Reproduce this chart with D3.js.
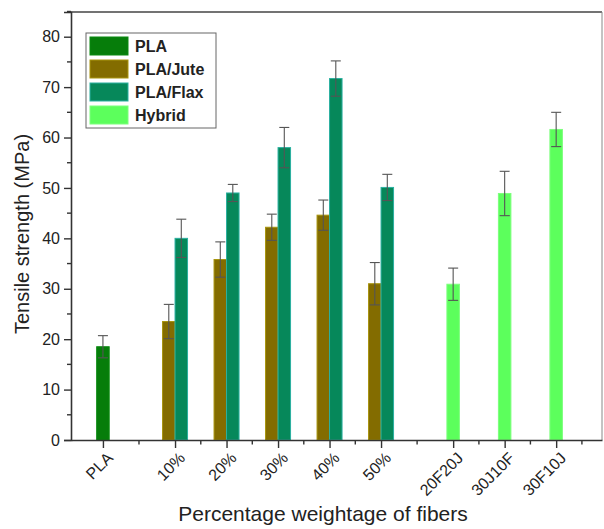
<!DOCTYPE html>
<html>
<head>
<meta charset="utf-8">
<script src="https://cdn.jsdelivr.net/npm/d3@7"></script>
<style>
  html, body { margin: 0; padding: 0; background: #fff; overflow: hidden; }
  svg { display: block; }
  svg text { font-family: "Liberation Sans", Arial, sans-serif; }
</style>
</head>
<body>
<div class="chart"></div>
<script>
const width = 604;
const height = 529;
const margin = { top: 12, right: 2, bottom: 89, left: 71 };

// categories and their x positions (gaps between groups)
const categories = ["PLA", "10%", "20%", "30%", "40%", "50%", "20F20J", "30J10F", "30F10J"];
const positions = [0, 1.4, 2.4, 3.4, 4.4, 5.4, 6.8, 7.8, 8.8];

const series = ["PLA", "PLA/Jute", "PLA/Flax", "Hybrid"];
const colors = ["#067d0a", "#836c00", "#06885a", "#5cff5c"];
const strokes = ["#0a8a10", "#a8940e", "#2ab0a0", "#7dff7d"];

// values per category (null = no bar)
const plaValues = [18.5, null, null, null, null, null, null, null, null];
const plaErrors = [2.2, null, null, null, null, null, null, null, null];
const juteValues = [null, 23.5, 35.8, 42.2, 44.6, 31.0, null, null, null];
const juteErrors = [null, 3.4, 3.5, 2.6, 3.0, 4.2, null, null, null];
const flaxValues = [null, 40.0, 49.0, 58.0, 71.7, 50.1, null, null, null];
const flaxErrors = [null, 3.8, 1.7, 4.0, 3.5, 2.6, null, null, null];
const hybridValues = [null, null, null, null, null, null, 30.9, 48.9, 61.6];
const hybridErrors = [null, null, null, null, null, null, 3.2, 4.4, 3.4];

const yTicks = [0, 10, 20, 30, 40, 50, 60, 70, 80];

const innerWidth = width - margin.left - margin.right;
const innerHeight = height - margin.top - margin.bottom;

const svg = d3.select(".chart").append("svg")
  .attr("width", width)
  .attr("height", height);

const g = svg.append("g")
  .attr("transform", `translate(${margin.left},${margin.top})`);

const xScale = d3.scaleLinear()
  .domain([-0.62, 9.69])
  .range([0, innerWidth]);

const yScale = d3.scaleLinear()
  .domain([0, 84.9])
  .range([innerHeight, 0]);

const barWidth = 12.5;

// build bar records; offset: -1 left of tick, 0 centered, +1 right of tick
const bars = [];
const addSeries = (vals, errs, s, offset) => {
  vals.forEach((v, i) => {
    if (v === null) return;
    bars.push({ cat: i, value: v, err: errs[i], s: s, offset: offset });
  });
};
addSeries(plaValues, plaErrors, 0, 0);
addSeries(juteValues, juteErrors, 1, -1);
addSeries(flaxValues, flaxErrors, 2, 1);
addSeries(hybridValues, hybridErrors, 3, 0);

const barX = d => {
  const cx = xScale(positions[d.cat]);
  if (d.offset === 0) return cx - barWidth / 2;
  if (d.offset < 0) return cx - barWidth;
  return cx;
};

g.selectAll("rect.bar")
  .data(bars)
  .enter().append("rect")
    .attr("class", "bar")
    .attr("x", barX)
    .attr("y", d => yScale(d.value))
    .attr("width", barWidth)
    .attr("height", d => yScale(0) - yScale(d.value))
    .attr("fill", d => colors[d.s])
    .attr("stroke", d => strokes[d.s])
    .attr("stroke-width", 1);

// error bars
const errG = g.selectAll("g.err")
  .data(bars)
  .enter().append("g")
    .attr("class", "err")
    .attr("stroke", "#555")
    .attr("stroke-width", 1.1);
errG.append("line")
  .attr("x1", d => barX(d) + barWidth / 2)
  .attr("x2", d => barX(d) + barWidth / 2)
  .attr("y1", d => yScale(d.value - d.err))
  .attr("y2", d => yScale(d.value + d.err));
errG.append("line")
  .attr("x1", d => barX(d) + barWidth / 2 - 5)
  .attr("x2", d => barX(d) + barWidth / 2 + 5)
  .attr("y1", d => yScale(d.value + d.err))
  .attr("y2", d => yScale(d.value + d.err));
errG.append("line")
  .attr("x1", d => barX(d) + barWidth / 2 - 5)
  .attr("x2", d => barX(d) + barWidth / 2 + 5)
  .attr("y1", d => yScale(d.value - d.err))
  .attr("y2", d => yScale(d.value - d.err));

// frame (top and right)
g.append("line")
  .attr("x1", 0).attr("x2", innerWidth)
  .attr("y1", 0).attr("y2", 0)
  .attr("stroke", "#444").attr("stroke-width", 1.5);
g.append("line")
  .attr("x1", innerWidth).attr("x2", innerWidth)
  .attr("y1", 0).attr("y2", innerHeight)
  .attr("stroke", "#888").attr("stroke-width", 1);

// y axis
const yAxis = d3.axisLeft(yScale)
  .tickValues(yTicks)
  .tickSize(7)
  .tickPadding(4);
const yAxisG = g.append("g").call(yAxis);
yAxisG.select(".domain").attr("stroke", "#333").attr("stroke-width", 1.6);
yAxisG.selectAll(".tick line").attr("stroke", "#333").attr("stroke-width", 1.4);
yAxisG.selectAll(".tick text")
  .attr("font-size", 16)
  .attr("fill", "#222")
  .style("font-family", "Liberation Sans, Arial, sans-serif");
// minor y ticks
g.selectAll("line.ymin")
  .data(yTicks.map(t => t + 5))
  .enter().append("line")
    .attr("x1", -4).attr("x2", 0)
    .attr("y1", d => yScale(d)).attr("y2", d => yScale(d))
    .attr("stroke", "#333").attr("stroke-width", 1.4);

// x axis (labels drawn separately, rotated)
const xAxis = d3.axisBottom(xScale)
  .tickValues(positions)
  .tickFormat("")
  .tickSize(8)
  .tickSizeOuter(0);
const xAxisG = g.append("g")
  .attr("transform", `translate(0,${innerHeight})`)
  .call(xAxis);
xAxisG.select(".domain").attr("stroke", "#333").attr("stroke-width", 1.6);
xAxisG.selectAll(".tick line").attr("stroke", "#333").attr("stroke-width", 1.4);

g.selectAll("text.xlabel")
  .data(categories)
  .enter().append("text")
    .attr("class", "xlabel")
    .attr("transform", (d, i) =>
      `translate(${xScale(positions[i]) + 11},${innerHeight + 19}) rotate(-45)`)
    .attr("text-anchor", "end")
    .attr("font-size", 16)
    .attr("fill", "#222")
    .text(d => d);

// minor x ticks at midpoints
const minorX = [];
for (let i = 0; i < positions.length - 1; i++) minorX.push((positions[i] + positions[i + 1]) / 2);
minorX.push(positions[positions.length - 1] + 0.5);
g.selectAll("line.xmin")
  .data(minorX)
  .enter().append("line")
    .attr("x1", d => xScale(d)).attr("x2", d => xScale(d))
    .attr("y1", innerHeight).attr("y2", innerHeight + 4.5)
    .attr("stroke", "#333").attr("stroke-width", 1.4);

// axis titles
svg.append("text")
  .attr("x", 323)
  .attr("y", 521)
  .attr("text-anchor", "middle")
  .attr("font-size", 21)
  .attr("fill", "#222")
  .text("Percentage weightage of fibers");

svg.append("text")
  .attr("transform", `translate(29,${margin.top + innerHeight / 2 + 8}) rotate(-90)`)
  .attr("text-anchor", "middle")
  .attr("font-size", 20)
  .attr("fill", "#222")
  .text("Tensile strength (MPa)");

// legend
const legend = svg.append("g").attr("transform", "translate(86,33)");
legend.append("rect")
  .attr("width", 130).attr("height", 95)
  .attr("fill", "#fff").attr("stroke", "#666").attr("stroke-width", 1);
const items = legend.selectAll("g.item")
  .data(series)
  .enter().append("g")
    .attr("class", "item")
    .attr("transform", (d, i) => `translate(4,${4 + i * 23})`);
items.append("rect")
  .attr("width", 38).attr("height", 18)
  .attr("fill", (d, i) => colors[i])
  .attr("stroke", (d, i) => strokes[i]);
items.append("text")
  .attr("x", 45).attr("y", 15)
  .attr("font-size", 16)
  .attr("font-weight", "bold")
  .attr("fill", "#222")
  .text(d => d);
</script>
</body>
</html>
